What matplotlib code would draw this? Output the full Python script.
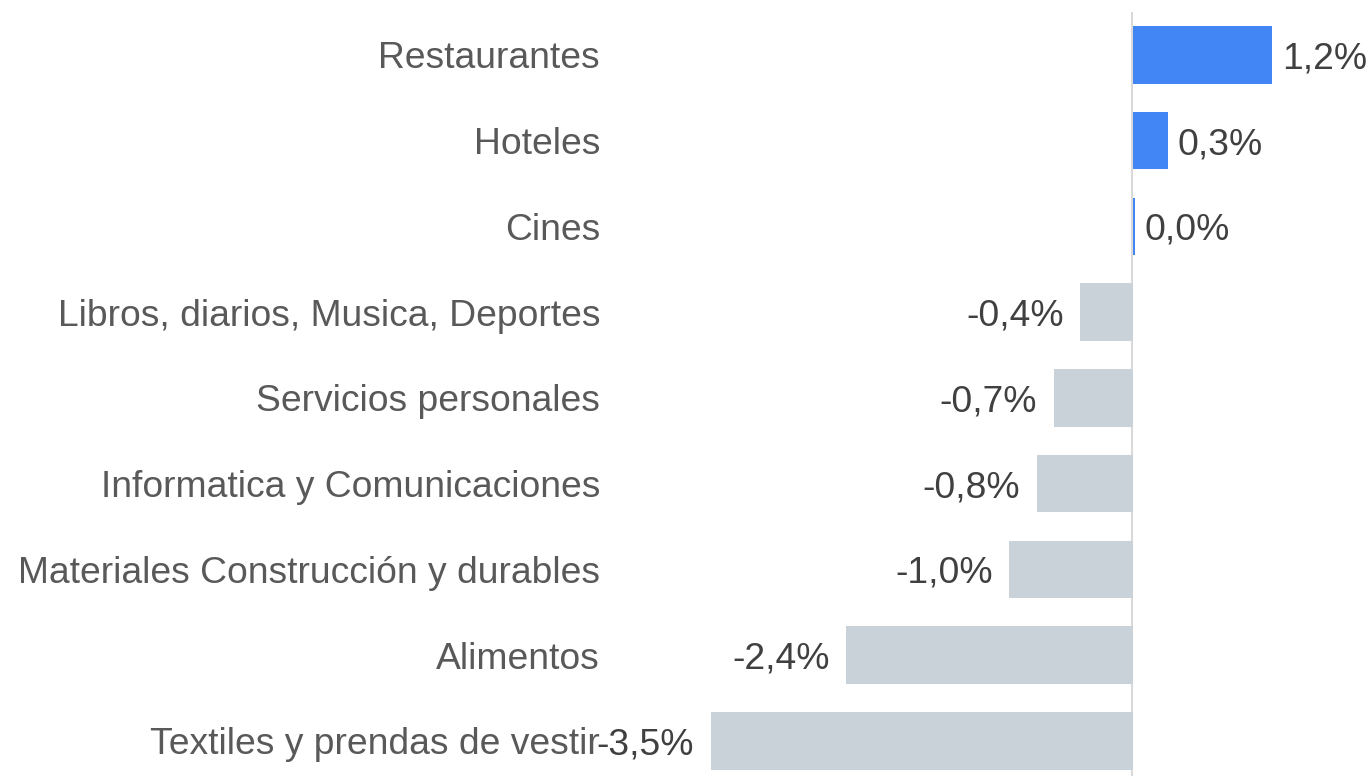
import matplotlib
matplotlib.use('Agg')
import matplotlib.pyplot as plt
import matplotlib.transforms as mtransforms

plt.rcParams['font.family'] = ['Liberation Sans', 'DejaVu Sans']

# data
categories = ['Restaurantes', 'Hoteles', 'Cines',
              'Libros, diarios, Musica, Deportes', 'Servicios personales',
              'Informatica y Comunicaciones',
              'Materiales Construcción y durables', 'Alimentos',
              'Textiles y prendas de vestir']
values = [1.16, 0.29, 0.015, -0.44, -0.66, -0.80, -1.03, -2.39, -3.52]
value_labels = ['1,2%', '0,3%', '0,0%', '-0,4%', '-0,7%', '-0,8%',
                '-1,0%', '-2,4%', '-3,5%']

BLUE = '#4285F4'
GREY = '#CAD2D9'
FS = 26.8


def create_plot():
    fig = plt.figure(figsize=(13.7, 7.76), dpi=100)
    ax = fig.add_axes([700 / 1370, 0, 670 / 1370, 764 / 776])

    ypos = list(range(len(categories)))
    colors = [BLUE if v >= 0 else GREY for v in values]
    ax.barh(ypos, values, height=0.67, color=colors, zorder=2)
    ax.axvline(-0.01, color='#d9d9d9', lw=1.5, zorder=1)

    ax.set_xlim(-433 / 120, 237 / 120)
    ax.set_ylim(8.41, -0.5)
    ax.axis('off')

    for y, v, lab in zip(ypos, values, value_labels):
        if v >= 0:
            ax.annotate(lab, (v, y), xytext=(7, 0), textcoords='offset points',
                        ha='left', va='center_baseline', fontsize=FS,
                        color='#404040')
        else:
            ax.annotate(lab, (v, y), xytext=(-12, 0), textcoords='offset points',
                        ha='right', va='center_baseline', fontsize=FS,
                        color='#404040')

    trans = mtransforms.blended_transform_factory(fig.transFigure, ax.transData)
    for y, cat in zip(ypos, categories):
        ax.text(600 / 1370, y, cat, transform=trans, ha='right',
                va='center_baseline', fontsize=FS, color='#595959')

    fig.savefig('out.png', dpi=100)


if __name__ == '__main__':
    create_plot()
